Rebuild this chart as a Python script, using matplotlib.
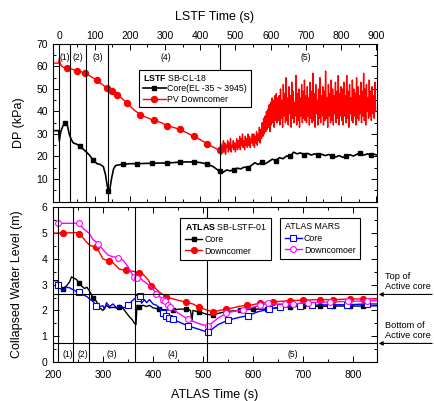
import numpy as np
import matplotlib
matplotlib.use("Agg")
import matplotlib.pyplot as plt
from matplotlib.ticker import MultipleLocator

plt.rcParams.update({
    "font.family": ["Liberation Sans", "DejaVu Sans"],
    "mathtext.fontset": "custom",
    "mathtext.rm": "Liberation Sans",
    "mathtext.bf": "Liberation Sans:bold",
    "axes.linewidth": 0.8,
})

# ---------------- LSTF data (top panel) ----------------
lstf_core_t = [-18, -2, 0, 4, 10, 16, 22, 28, 34, 40, 49, 59, 66, 75, 86, 97, 107, 116, 125, 131,
               135, 139, 143, 148, 154, 160, 170, 182, 200, 220, 240, 263, 285, 306, 325, 343, 362,
               381, 400, 419, 437, 455, 465, 475, 485, 495, 505, 515, 525, 535, 545, 555, 565, 575,
               585, 595, 605, 615, 625, 635, 645, 655, 665, 675, 685, 695, 705, 715, 725, 735, 745,
               755, 765, 775, 785, 795, 805, 815, 825, 835, 845, 855, 865, 875, 885, 895, 900]
lstf_core_v = [31.5, 31.5, 27, 31, 33.5, 35, 34.5, 30, 27.5, 26, 25.5, 24.5, 23.5, 22.3, 20.5, 18.3,
               16.8, 16.5, 15.5, 12, 8, 4.5, 5, 10, 14.5, 16, 16.3, 16.5, 16.8, 16.8, 16.9, 17, 17.1,
               17.1, 17.3, 17.5, 17.6, 17.6, 17.3, 16.7, 15.5, 13.4, 13.0, 14.0, 13.6, 14.2, 14.8,
               14.5, 15.3, 15.0, 16.0, 17.2, 16.5, 17.5, 16.8, 17.8, 18.8, 18.2, 19.5, 19.0, 20.2,
               20.0, 21.9, 21.2, 21.6, 20.8, 21.4, 20.6, 21.2, 20.5, 21.0, 20.4, 20.9, 20.2, 19.8,
               20.4, 19.6, 20.3, 20.8, 20.2, 21.0, 21.5, 20.6, 21.2, 20.5, 21.0, 20.7]
lstf_core_marks = [5, 11, 15, 21, 27, 29, 31, 33, 35, 37, 39, 41, 45, 49, 53, 57, 61, 65, 69, 73, 77, 81, 84]

lstf_dc_t = [-18, -2, 0, 3, 8, 14, 21, 35, 50, 73, 90, 106, 120, 135, 150, 163, 178, 192, 210,
             230, 250, 268, 287, 306, 325, 343, 362, 381, 400, 419, 437, 455]
lstf_dc_v = [61.5, 61.5, 63.5, 61, 60, 59.5, 59.2, 58.8, 58.2, 57.1, 55.5, 53.9, 52.2, 50.4, 49.3,
             47.5, 45.8, 43.8, 41, 38.6, 37.2, 36.1, 35.2, 33.7, 32.9, 32, 30.5, 29, 27.5, 25.7,
             24.2, 22.7]
lstf_dc_marks = [6, 8, 9, 11, 13, 14, 15, 17, 19, 21, 23, 25, 27, 29, 31]
# oscillating part after 455 s (every 2 s from 456 s to 898 s)
lstf_dc_osc_t0, lstf_dc_osc_dt = 456, 2
lstf_dc_osc_v = [22, 26, 21, 25, 23, 27, 22, 26, 21, 25, 24, 27, 22, 26, 23, 28, 22, 25, 24, 27, 23, 26, 22,
                 25, 28, 23, 27, 24, 29, 23, 28, 25, 30, 24, 27, 23, 29, 25, 28, 24, 30, 25, 29, 24, 28, 26, 30,
                 25, 30, 24, 29, 26, 31, 25, 30, 27, 33, 26, 32,
                 28, 35, 29, 37, 30, 38, 31, 40, 32, 41, 33, 43, 31, 44, 34, 46, 35, 45, 33, 47, 36, 48, 35, 46,
                 36, 47, 34, 50, 37, 45, 33, 52, 38, 48, 35, 55, 36, 46, 34, 51, 39, 47, 33, 53, 37, 49, 35, 44,
                 38, 56, 34, 48, 36, 50, 33, 46, 38, 52, 35, 49, 37, 54, 36,
                 47, 35, 51, 38, 46, 34, 53, 37, 49, 35, 57, 36, 48, 33, 52, 39, 45, 34, 50, 37, 55, 35, 47, 38,
                 51, 34, 49, 36, 58, 37, 46, 33, 52, 38, 48, 35, 54, 36, 50, 34, 47, 39, 53, 35, 49, 37, 56, 34,
                 48, 38, 51,
                 36, 50, 34, 53, 38, 47, 35, 56, 37, 49, 33, 52, 39, 46, 36, 54, 35, 50, 38, 48, 34, 55, 37, 51,
                 36, 47, 39, 53, 35, 49, 38, 57, 36, 50, 34, 52, 40, 46, 37, 54, 38, 49, 36, 51, 39, 47, 37, 53,
                 40]

lstf_lines = [0, 30, 75, 138, 455]
lstf_regions = [(15, "(1)"), (54, "(2)"), (108, "(3)"), (302, "(4)"), (700, "(5)")]

# ---------------- ATLAS data (bottom panel) ----------------
atlas_core_t = [200, 210, 213, 220, 227, 233, 237, 242, 247, 253, 257, 263, 268, 273, 280, 287, 293,
                297, 300, 307, 313, 320, 327, 333, 340, 347, 353, 358, 363, 366, 368, 373, 380, 387,
                393, 400, 413, 427, 440, 453, 467, 475, 478, 480, 493, 500, 507, 520, 533, 547, 560,
                573, 587, 600, 613, 627, 640, 653, 673, 700, 733, 760, 793, 820, 848]
atlas_core_v = [3.15, 3.15, 2.95, 2.85, 2.95, 3.1, 3.3, 3.25, 3.2, 3.05, 2.95, 2.85, 2.9, 2.75,
                2.5, 2.35, 2.1, 2.05, 2.0, 2.2, 2.1, 2.12, 2.1, 2.15, 2.08, 1.9, 1.75, 1.65, 1.5,
                1.45, 2.2, 2.15, 2.2, 2.15, 2.2, 2.1, 2.05, 2.02, 2.02, 2.05, 2.05, 2.0, 1.6, 2.0,
                1.93, 1.9, 1.85, 1.82, 1.9, 1.95, 1.98, 2.0, 2.03, 2.05, 2.05, 2.05, 2.08, 2.12,
                2.15, 2.16, 2.16, 2.17, 2.17, 2.17, 2.18]
atlas_core_marks = [3, 9, 14, 23, 31, 36, 38, 40, 44, 47, 49, 51, 53, 55, 57, 58, 59, 60, 61, 62, 63]

atlas_dc_t = [200, 220, 247, 253, 265, 272, 280, 287, 293, 300, 313, 320, 333, 347, 360, 372, 380,
              390, 397, 403, 413, 420, 427, 440, 453, 467, 480, 493, 507, 520, 533, 547, 560, 573,
              587, 600, 613, 627, 640, 653, 673, 700, 733, 760, 793, 820, 848]
atlas_dc_v = [5.0, 5.0, 5.02, 4.98, 4.7, 4.55, 4.48, 4.45, 4.25, 4.0, 3.9, 3.85, 3.6, 3.55, 3.52,
              3.45, 3.4, 3.2, 2.95, 2.9, 2.7, 2.62, 2.52, 2.45, 2.38, 2.32, 2.25, 2.12, 2.02, 1.94,
              2.0, 2.05, 2.1, 2.16, 2.2, 2.22, 2.28, 2.3, 2.33, 2.35, 2.38, 2.4, 2.42, 2.42, 2.44,
              2.45, 2.45]
atlas_dc_marks = [1, 3, 7, 10, 13, 15, 18, 22, 25, 27, 29, 31, 34, 36, 38, 40, 41, 42, 43, 44, 45]

mars_core_t = [210, 215, 220, 227, 233, 245, 253, 260, 267, 273, 280, 287, 293, 300, 303, 307, 313,
               320, 327, 333, 340, 347, 350, 357, 363, 370, 375, 377, 383, 387, 393, 400, 407, 413,
               420, 427, 433, 440, 470, 490, 510, 520, 530, 550, 570, 590, 610, 632, 653, 693, 717,
               753, 787, 827, 848]
mars_core_v = [3.0, 2.85, 2.75, 2.9, 2.88, 2.75, 2.7, 2.6, 2.55, 2.45, 2.35, 2.18, 2.15, 2.18, 2.05,
               2.3, 2.15, 2.25, 2.1, 2.2, 2.12, 2.1, 2.2, 2.35, 2.45, 2.48, 2.55, 2.28, 2.42, 2.3,
               2.42, 2.25, 2.2, 2.1, 1.9, 1.8, 1.72, 1.65, 1.4, 1.28, 1.15, 1.3, 1.45, 1.62, 1.72,
               1.8, 1.95, 2.05, 2.12, 2.18, 2.2, 2.22, 2.22, 2.25, 2.25]
mars_core_marks = [0, 6, 11, 22, 25, 26, 34, 35, 36, 37, 38, 40, 43, 45, 47, 48, 49, 50, 51, 52, 53]

mars_dc_t = [210, 252, 262, 272, 280, 291, 300, 310, 320, 330, 340, 350, 357, 363, 369, 373, 380,
             393, 407, 420, 425, 430, 435, 450, 471, 490, 510, 520, 530, 547, 563, 580, 597, 613,
             630, 647, 663, 680, 710, 753, 790, 827, 848]
mars_dc_v = [5.38, 5.38, 5.15, 5.0, 4.75, 4.58, 4.35, 4.15, 4.08, 4.05, 3.95, 3.7, 3.45, 3.28,
             3.25, 3.3, 3.15, 2.97, 2.65, 2.42, 2.35, 2.22, 2.15, 1.9, 1.65, 1.5, 1.38, 1.55, 1.7,
             1.9, 1.97, 2.02, 2.1, 2.2, 2.27, 2.25, 2.25, 2.25, 2.3, 2.33, 2.35, 2.37, 2.38]
mars_dc_marks = [0, 1, 5, 9, 13, 14, 18, 19, 20, 21, 22, 24, 26, 29, 31, 33, 34, 36, 37, 38, 39, 40, 41]

atlas_lines = [210, 241, 272, 365, 508]
atlas_regions = [(229, "(1)"), (260, "(2)"), (317, "(3)"), (440, "(4)"), (680, "(5)")]
top_core_level = 2.62
bottom_core_level = 0.72

# ---------------- figure ----------------
fig = plt.figure(figsize=(4.35, 4.01), dpi=100)
ax1 = fig.add_axes([0.1218, 0.4975, 0.7449, 0.3928])
ax2 = fig.add_axes([0.1218, 0.0973, 0.7449, 0.3857])

TICK = 7.5
# ---- top
lt = list(lstf_dc_t) + list(lstf_dc_osc_t0 + lstf_dc_osc_dt * np.arange(len(lstf_dc_osc_v)))
lv = list(lstf_dc_v) + list(lstf_dc_osc_v)
l_dc, = ax1.plot(lt, lv, color="red", lw=1.0, marker="o", ms=4.3, markevery=lstf_dc_marks)
l_core, = ax1.plot(lstf_core_t, lstf_core_v, color="black", lw=1.2, marker="s", ms=3.5,
                   markevery=lstf_core_marks)
for x in lstf_lines:
    ax1.axvline(x, color="black", lw=0.8)
for x, s in lstf_regions:
    ax1.text(x, 64, s, ha="center", va="center", fontsize=6.2)
ax1.set_xlim(-18, 902)
ax1.set_ylim(0, 70)
ax1.set_yticks([10, 20, 30, 40, 50, 60, 70])
ax1.xaxis.set_major_locator(MultipleLocator(100))
ax1.xaxis.set_minor_locator(MultipleLocator(50))
ax1.yaxis.set_minor_locator(MultipleLocator(5))
ax1.tick_params(axis="both", which="both", direction="in", top=True, bottom=True, left=True,
                right=True, labelsize=TICK, width=0.7)
ax1.tick_params(axis="x", labeltop=True, labelbottom=False, pad=2)
ax1.tick_params(which="major", length=4)
ax1.tick_params(which="minor", length=2)
ax1.set_ylabel("DP (kPa)", fontsize=9)
ax1.yaxis.set_label_coords(-0.085, 0.5)
ax1.set_xlabel("LSTF Time (s)", fontsize=9, labelpad=8)
ax1.xaxis.set_label_position("top")

leg1 = ax1.legend([l_core, l_dc], ["Core(EL -35 ~ 3945)", "PV Downcomer"],
                  title=r"$\mathbf{LSTF}$ SB-CL-18", loc="upper left",
                  bbox_to_anchor=(0.253, 0.865), fontsize=6.3, title_fontsize=6.3,
                  frameon=True, fancybox=False, edgecolor="black", framealpha=1,
                  handlelength=2.6, borderpad=0.4, labelspacing=0.15, handletextpad=0.2,
                  alignment="left")
leg1.get_frame().set_linewidth(0.8)

# ---- bottom
a_core, = ax2.plot(atlas_core_t, atlas_core_v, color="black", lw=1.0, marker="s", ms=3.5,
                   markevery=atlas_core_marks)
a_dc, = ax2.plot(atlas_dc_t, atlas_dc_v, color="red", lw=1.0, marker="o", ms=4.2,
                 markevery=atlas_dc_marks)
m_core, = ax2.plot(mars_core_t, mars_core_v, color="blue", lw=1.0, marker="s", ms=3.8,
                   mfc="white", mew=0.8, markevery=mars_core_marks)
m_dc, = ax2.plot(mars_dc_t, mars_dc_v, color="magenta", lw=1.0, marker="o", ms=4.2,
                 mfc="white", mew=0.8, markevery=mars_dc_marks)
for x in atlas_lines:
    ax2.axvline(x, color="black", lw=0.8)
ax2.axhline(top_core_level, color="black", lw=0.8)
ax2.axhline(bottom_core_level, color="black", lw=0.8)
for x, s in atlas_regions:
    ax2.text(x, 0.3, s, ha="center", va="center", fontsize=6.2)
ax2.set_xlim(200, 848)
ax2.set_ylim(0, 6)
ax2.xaxis.set_major_locator(MultipleLocator(100))
ax2.xaxis.set_minor_locator(MultipleLocator(50))
ax2.yaxis.set_major_locator(MultipleLocator(1))
ax2.yaxis.set_minor_locator(MultipleLocator(0.5))
ax2.tick_params(axis="both", which="both", direction="in", top=True, bottom=True, left=True,
                right=True, labelsize=TICK, width=0.7)
ax2.tick_params(which="major", length=4)
ax2.tick_params(which="minor", length=2)
ax2.tick_params(axis="x", pad=6)
ax2.tick_params(axis="y", pad=4)
ax2.set_ylabel("Collapsed Water Level (m)", fontsize=9)
ax2.yaxis.set_label_coords(-0.092, 0.5)
ax2.set_xlabel("ATLAS Time (s)", fontsize=9, labelpad=6)

leg2 = ax2.legend([a_core, a_dc], ["Core", "Downcomer"], title=r"$\mathbf{ATLAS}$ SB-LSTF-01",
                  loc="upper left", bbox_to_anchor=(0.38, 0.96), fontsize=6.3,
                  title_fontsize=6.3, frameon=True, fancybox=False, edgecolor="black",
                  framealpha=1, handlelength=2.0, borderpad=0.5, labelspacing=0.3,
                  handletextpad=0.2, alignment="left")
leg2.get_frame().set_linewidth(0.8)
ax2.add_artist(leg2)
leg3 = ax2.legend([m_core, m_dc], ["Core", "Downcomoer"], title="ATLAS MARS",
                  loc="upper left", bbox_to_anchor=(0.688, 0.96), fontsize=6.3,
                  title_fontsize=6.3, frameon=True, fancybox=False, edgecolor="black",
                  framealpha=1, handlelength=2.0, borderpad=0.5, labelspacing=0.3,
                  handletextpad=0.2, alignment="left")
leg3.get_frame().set_linewidth(0.8)

# annotations outside right
for lvl, txt in [(top_core_level, "Top of\nActive core"), (bottom_core_level, "Bottom of\nActive core")]:
    ax2.annotate("", xy=(1.005, lvl), xycoords=("axes fraction", "data"),
                 xytext=(1.17, lvl), textcoords=("axes fraction", "data"),
                 arrowprops=dict(arrowstyle="-|>", color="black", lw=0.8,
                                 mutation_scale=6, shrinkA=0, shrinkB=0),
                 annotation_clip=False)
    ax2.annotate(txt, xy=(1.025, lvl + 0.12), xycoords=("axes fraction", "data"),
                 ha="left", va="bottom", fontsize=6.7, annotation_clip=False,
                 multialignment="left")

fig.savefig("out.png", dpi=100)
